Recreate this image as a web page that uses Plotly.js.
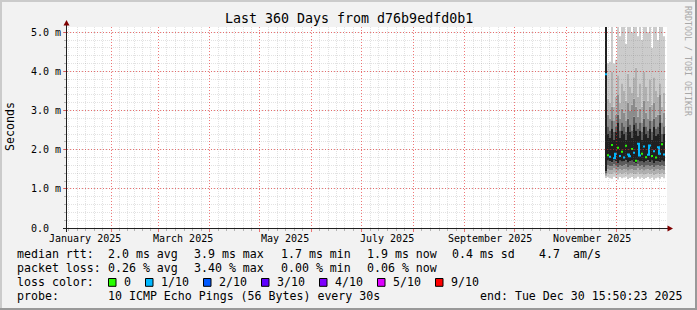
<!DOCTYPE html>
<html>
<head>
<meta charset="utf-8">
<script src="https://cdn.plot.ly/plotly-3.0.1.min.js"></script>
<style>
html,body{margin:0;padding:0;background:#f2f2f2;}
#chart{width:697px;height:310px;}
</style>
</head>
<body>
<div id="chart"></div>
<script>
// ---------------- DATA ----------------
// consolidated columns (RRD rows), start + fixed step
const seriesStart = '2025-11-24T01:12:00Z';
const stepDays = 1.2;

// sorted ping values per column (ms), ping1 = fastest ... ping10 = slowest
const ping1  = [1.28,1.30,1.27,1.26,1.31,1.28,1.24,1.30,1.27,1.29,1.31,1.25,1.28,1.30,1.26,1.27,1.31,1.26,1.29,1.25,1.28,1.30,1.26,1.29,1.23,1.27,1.29,1.26,1.30,1.27];
const ping2  = [1.32,1.40,1.38,1.37,1.41,1.39,1.36,1.40,1.38,1.39,1.41,1.36,1.39,1.40,1.37,1.38,1.41,1.37,1.39,1.36,1.38,1.40,1.37,1.39,1.35,1.38,1.39,1.37,1.40,1.38];
const ping3  = [1.36,1.50,1.48,1.47,1.52,1.49,1.46,1.50,1.48,1.50,1.51,1.46,1.49,1.50,1.47,1.48,1.52,1.47,1.50,1.46,1.49,1.50,1.47,1.50,1.45,1.49,1.50,1.47,1.51,1.48];
const ping4  = [1.40,1.60,1.58,1.57,1.62,1.59,1.55,1.61,1.58,1.60,1.62,1.56,1.59,1.61,1.57,1.58,1.62,1.57,1.60,1.56,1.59,1.61,1.57,1.60,1.55,1.59,1.60,1.57,1.61,1.58];
const ping5  = [1.45,1.72,1.70,1.68,1.74,1.70,1.66,1.72,1.69,1.71,1.73,1.67,1.70,1.72,1.68,1.66,1.74,1.69,1.71,1.67,1.70,1.73,1.68,1.72,1.66,1.70,1.71,1.68,1.72,1.69];
const ping6  = [5.60,2.40,2.30,2.55,2.25,2.45,2.70,2.30,2.50,2.40,2.25,2.60,2.45,2.30,2.65,2.50,2.35,2.50,2.25,2.60,2.40,2.30,2.55,2.25,2.60,2.35,2.40,2.70,2.20,2.40];
const ping7  = [5.70,2.60,2.50,2.75,2.45,2.60,2.90,2.50,2.70,2.60,2.45,2.80,2.65,2.50,2.85,2.70,2.55,2.70,2.45,2.80,2.60,2.50,2.75,2.45,2.80,2.55,2.60,2.90,2.40,2.60];
const ping8  = [5.80,2.90,2.80,3.10,2.75,2.90,3.40,2.80,3.05,2.95,2.75,3.20,3.00,3.15,3.30,3.10,2.85,3.05,2.70,3.25,2.95,2.80,3.10,2.75,3.20,2.85,2.90,3.40,2.70,2.95];
const ping9  = [5.90,3.30,3.20,4.00,3.10,3.35,3.90,3.20,3.70,3.50,3.25,3.95,3.60,3.45,3.85,4.10,3.35,3.70,3.10,4.00,3.60,3.25,3.80,3.15,3.85,3.50,3.35,3.70,3.10,3.45];
const ping10 = [6.00,4.20,4.25,5.30,4.20,4.30,5.40,4.90,5.50,5.20,4.70,5.60,5.30,5.00,5.50,5.80,4.90,5.40,4.80,5.70,5.20,5.00,5.50,4.60,5.60,5.30,4.80,5.40,5.20,4.90];
const medianRtt = [3.93,1.86,1.82,2.12,1.78,1.90,2.05,1.84,1.95,1.80,2.10,1.88,1.83,2.02,1.92,1.72,2.15,1.85,1.90,2.08,1.81,1.87,2.11,1.84,1.96,1.80,2.06,1.90,2.14,1.88];
const lossTenths = [1,0,1,0,1,1,0,1,0,1,0,1,1,0,1,0,1,1,0,1,0,1,1,0,1,0,1,1,0,1];

// axis labels
const xRangeStart = '2025-01-05 06:00:00';
const xRangeEnd   = '2025-12-31 06:00:00';
const yTop = 5.135;
const monthStarts = ['2025-02-01','2025-03-01','2025-04-01','2025-05-01','2025-06-01','2025-07-01','2025-08-01','2025-09-01','2025-10-01','2025-11-01','2025-12-01'];
const monthLabelDates = ['2025-01-16','2025-03-16','2025-05-16','2025-07-16','2025-09-16','2025-11-16'];
const monthLabelTexts = ['January 2025','March 2025','May 2025','July 2025','September 2025','November 2025'];
const yTickVals = [0,1,2,3,4,5];
const yTickTexts = ['0.0  ','1.0 m','2.0 m','3.0 m','4.0 m','5.0 m'];

// legend statistics
const rttValues = ['2.0','3.9','1.7','1.9'];
const statNames = ['avg','max','min','now'];
const rttSd = '0.4';
const rttAmS = '4.7';
const lossPctValues = ['0.26','3.40','0.00','0.06'];
const lossLegendLevels = [0,1,2,3,4,5,9];
const lossLegendTexts = ['0','1/10','2/10','3/10','4/10','5/10','9/10'];

// ---------------- STYLE ----------------
const mono = 'DejaVu Sans Mono, monospace';
const lossColors = {0:'#26ff00',1:'#00b8ff',2:'#0059ff',3:'#5e00ff',4:'#7e00ff',5:'#dd00ff',9:'#ff0000'};
const bandColors = ['#cccccc','#b0b0b0','#8c8c8c','#5c5c5c','#202020','#5c5c5c','#8c8c8c','#b0b0b0','#cccccc'];
const majorGrid = 'rgba(230,30,30,0.6)';
const minorGrid = 'rgba(110,110,110,0.2)';
const L = 67, T = 27, W = 600, H = 201;
const px = x => (x - L) / W;
const py = y => (T + H - y) / H;

// ---------------- BUILD ----------------
const dayMs = 86400000;
const t0 = Date.parse(seriesStart);
const fmt = ms => new Date(ms).toISOString().replace('T',' ').slice(0,19);
const n = medianRtt.length;
const times = [];
for (let i = 0; i <= n; i++) times.push(fmt(t0 + i * stepDays * dayMs));

const traces = [];
const pings = [ping1,ping2,ping3,ping4,ping5,ping6,ping7,ping8,ping9,ping10];
pings.forEach((arr, k) => {
  const tr = {
    type:'scatter', x: times, y: arr.concat([arr[arr.length-1]]),
    mode:'lines', line:{shape:'hv', width:0, color:'rgba(0,0,0,0)'},
    hoverinfo:'skip', xaxis:'x', yaxis:'y'
  };
  if (k > 0) { tr.fill = 'tonexty'; tr.fillcolor = bandColors[k-1]; }
  traces.push(tr);
});

[...new Set(lossTenths)].forEach(lv => {
  const xs = [], ys = [];
  for (let i = 0; i < n; i++) {
    if (lossTenths[i] !== lv) continue;
    xs.push(times[i]); ys.push(medianRtt[i]);
    if (i === n-1 || lossTenths[i+1] !== lv) {
      xs.push(times[i+1]); ys.push(medianRtt[i]);
      xs.push(times[i+1]); ys.push(null);
    }
  }
  traces.push({type:'scatter', x:xs, y:ys, mode:'lines', connectgaps:false,
    line:{shape:'hv', width:2, color:lossColors[lv]}, hoverinfo:'skip', xaxis:'x', yaxis:'y'});
});

// grid subplot (drawn above data)
traces.push({type:'scatter', x:[], y:[], xaxis:'x2', yaxis:'y2', hoverinfo:'skip'});

// minor x grid: each month split in sixths
const minorTicks = [];
for (let m = 0; m < 12; m++) {
  const a = Date.UTC(2025, m, 1), b = Date.UTC(2025, m+1, 1);
  for (let k = 1; k < 6; k++) minorTicks.push(fmt(a + (b - a) * k / 6));
}

const nb = s => s.replace(/ /g, '\u00a0');
function ann(text, x, y, extra) {
  return Object.assign({
    text: nb(text), xref:'paper', yref:'paper', x: px(x), y: py(y),
    xanchor:'left', yanchor:'middle', showarrow:false, borderpad:0,
    font:{family:mono, size:11.6, color:'#000'}
  }, extra || {});
}

const annotations = [];
annotations.push(ann('Last 360 Days from d76b9edfd0b1', 348.5, 19, {xanchor:'center', font:{family:mono,size:13.3,color:'#000'}}));
annotations.push(ann('Seconds', 10, 127, {xanchor:'center', textangle:-90}));
annotations.push(ann('RRDTOOL / TOBI OETIKER', 688, 61, {xanchor:'center', textangle:90, font:{family:mono,size:8.3,color:'#a8a8a8'}}));
monthLabelDates.forEach((d, i) => {
  annotations.push({text: nb(monthLabelTexts[i]), xref:'x', yref:'paper', x: d, y: py(238.5),
    xanchor:'center', yanchor:'middle', showarrow:false, borderpad:0,
    font:{family:mono, size:10, color:'#000'}});
});

// legend rows
const row1 = 254.3, row2 = 268.3, row3 = 282.3, row4 = 296;
const statX = [107, 193, 279.5, 365.5];
annotations.push(ann('median rtt:', 16, row1));
annotations.push(ann('packet loss:', 16, row2));
rttValues.forEach((v, i) => annotations.push(ann(v + ' ms ' + statNames[i], statX[i], row1)));
annotations.push(ann(rttSd + ' ms sd', 451, row1));
annotations.push(ann(rttAmS, 538, row1));
annotations.push(ann('am/s', 572, row1));
lossPctValues.forEach((v, i) => annotations.push(ann(v + ' % ' + statNames[i], statX[i], row2)));
annotations.push(ann('loss color:', 16, row3));
const swatchX = [108.5, 145.5, 203.5, 261.5, 319.5, 377.5, 435.5];
const shapes = [];
lossLegendLevels.forEach((lv, i) => {
  const x0 = swatchX[i];
  shapes.push({type:'rect', xref:'paper', yref:'paper', x0:px(x0), x1:px(x0+7.5), y0:py(278.5), y1:py(286.3),
    fillcolor: lossColors[lv], line:{color:'#000', width:1}, layer:'above'});
  annotations.push(ann(lossLegendTexts[i], x0 + 14.8, row3));
});
annotations.push(ann('probe:', 16, row4));
annotations.push(ann('10 ICMP Echo Pings (56 Bytes) every 30s', 107.3, row4));
annotations.push(ann('end: Tue Dec 30 15:50:23 2025', 478.7, row4));

// canvas, frame, axis lines and arrows
const pathPx = pts => pts.map((p, i) => (i ? 'L' : 'M') + px(p[0]) + ',' + py(p[1])).join(' ') + ' Z';
shapes.push({type:'rect', xref:'paper', yref:'paper', x0:0, x1:1, y0:0, y1:1, fillcolor:'#ffffff', line:{width:0}, layer:'below'});
shapes.push({type:'line', xref:'paper', yref:'paper', x0:px(0), x1:px(697), y0:py(1), y1:py(1), line:{color:'#cbcbcb', width:2}, layer:'above'});
shapes.push({type:'line', xref:'paper', yref:'paper', x0:px(1), x1:px(1), y0:py(0), y1:py(310), line:{color:'#cbcbcb', width:2}, layer:'above'});
shapes.push({type:'line', xref:'paper', yref:'paper', x0:px(0), x1:px(697), y0:py(309), y1:py(309), line:{color:'#999999', width:2}, layer:'above'});
shapes.push({type:'line', xref:'paper', yref:'paper', x0:px(696), x1:px(696), y0:py(0), y1:py(310), line:{color:'#999999', width:2}, layer:'above'});
shapes.push({type:'line', xref:'paper', yref:'paper', x0:px(66.5), x1:px(66.5), y0:py(232), y1:py(25), line:{color:'#202020', width:1}, layer:'above'});
shapes.push({type:'line', xref:'paper', yref:'paper', x0:px(63), x1:px(668), y0:py(228.5), y1:py(228.5), line:{color:'#202020', width:1}, layer:'above'});
shapes.push({type:'path', xref:'paper', yref:'paper', path: pathPx([[63.5,25.5],[66.5,20],[69.5,25.5]]), fillcolor:'#7f0000', line:{width:0}, layer:'above'});
shapes.push({type:'path', xref:'paper', yref:'paper', path: pathPx([[667.5,225.5],[673,228.5],[667.5,231.5]]), fillcolor:'#7f0000', line:{width:0}, layer:'above'});

const layout = {
  width:697, height:310,
  margin:{l:L, r:697-L-W, t:T, b:310-T-H, pad:0},
  paper_bgcolor:'#f2f2f2', plot_bgcolor:'rgba(0,0,0,0)',
  showlegend:false, hovermode:false,
  font:{family:mono, size:10, color:'#000'},
  xaxis:{type:'date', range:[xRangeStart, xRangeEnd], visible:false, fixedrange:true},
  yaxis:{range:[0, yTop], visible:false, fixedrange:true},
  xaxis2:{type:'date', range:[xRangeStart, xRangeEnd], anchor:'y2', domain:[0,1], fixedrange:true,
    tickmode:'array', tickvals:monthStarts, showticklabels:false,
    ticks:'outside', ticklen:3, tickcolor:majorGrid,
    showgrid:true, gridcolor:majorGrid, griddash:'1px,2px', gridwidth:1,
    zeroline:false, showline:false,
    minor:{tickmode:'array', tickvals:minorTicks, ticks:'outside', ticklen:2, tickcolor:'#b4b4b4',
      showgrid:true, gridcolor:minorGrid, griddash:'1px,1px', gridwidth:1}},
  yaxis2:{range:[0, yTop], anchor:'x2', domain:[0,1], fixedrange:true,
    tickmode:'array', tickvals:yTickVals, ticktext:yTickTexts.map(nb),
    tickfont:{family:mono, size:10, color:'#000'},
    ticks:'outside', ticklen:3, tickcolor:majorGrid,
    showgrid:true, gridcolor:majorGrid, griddash:'1px,2px', gridwidth:1,
    zeroline:false, showline:false,
    minor:{tickmode:'linear', tick0:0, dtick:0.2, ticks:'outside', ticklen:2, tickcolor:'#b4b4b4',
      showgrid:true, gridcolor:minorGrid, griddash:'1px,1px', gridwidth:1}},
  shapes: shapes,
  annotations: annotations
};

Plotly.newPlot('chart', traces, layout, {staticPlot:true, displayModeBar:false});
</script>
</body>
</html>
